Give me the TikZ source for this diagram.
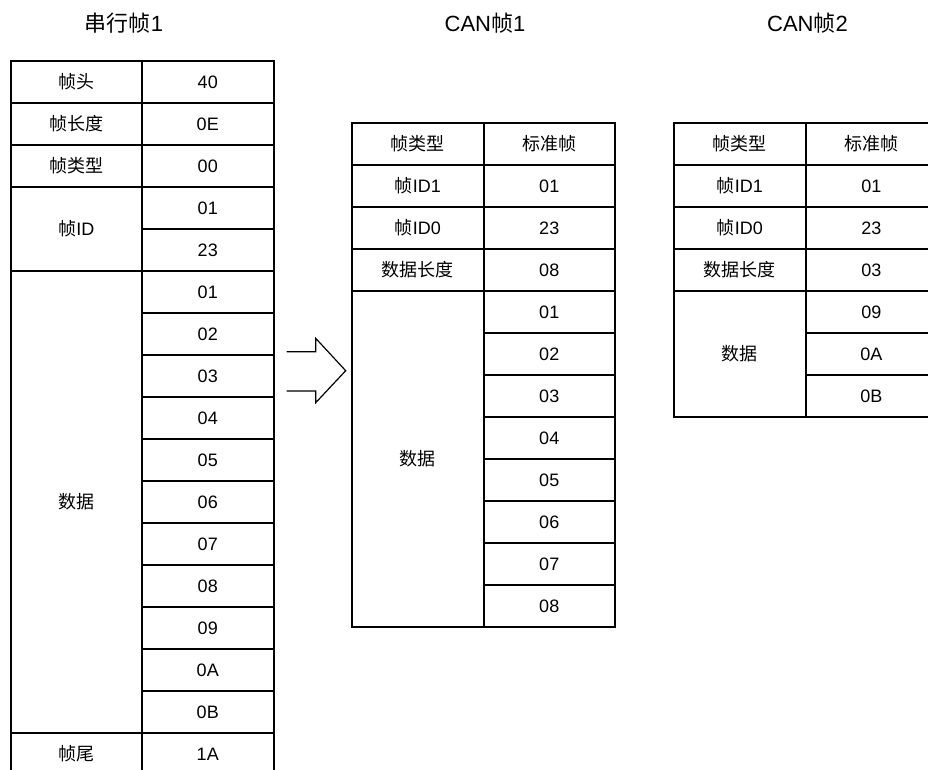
\documentclass[tikz,border=0pt]{standalone}
\usepackage{fontspec}
\setmainfont{Liberation Sans}
\newfontfamily\cjk{Noto Sans CJK SC}
\newcommand{\zh}[1]{{\cjk #1}}
\begin{document}
\begin{tikzpicture}[x=1pt,y=-1pt, every node/.style={font=\fontsize{18pt}{20pt}\selectfont},
  cell/.style={draw,line width=2pt,minimum width=131.5pt,minimum height=42pt,inner sep=0pt,outer sep=0pt,
    text height=13pt,text depth=0pt,anchor=north west},
  title/.style={font=\fontsize{22pt}{24pt}\selectfont}]
\useasboundingbox (0,0) rectangle (928,769);
\clip (0,0) rectangle (928,769);
% titles
\node[title] (t0) at (124,23) {\zh{串行帧}1};
\node[title] (t1) at (485,23) {CAN\zh{帧}1};
\node[title] (t2) at (807.5,23) {CAN\zh{帧}2};
% serial frame
\node[cell] (sk0) at (10.5,61) {\zh{帧头}};
\node[cell] (sk1) at (10.5,103) {\zh{帧长度}};
\node[cell] (sk2) at (10.5,145) {\zh{帧类型}};
\node[cell,minimum height=84pt] (sk3) at (10.5,187) {\zh{帧}ID};
\node[cell,minimum height=462pt] (sk4) at (10.5,271) {\zh{数据}};
\node[cell] (sk5) at (10.5,733) {\zh{帧尾}};
\foreach \v [count=\i from 0] in {40,0E,00,01,23,01,02,03,04,05,06,07,08,09,0A,0B,1A}
  \node[cell] (sv\i) at (142,{61+42*\i}) {\v};
% CAN frames, header rows
\foreach \x/\n/\len in {352/a/08,674/b/03} {
  \node[cell] (\n k0) at (\x,123) {\zh{帧类型}};
  \node[cell] (\n v0) at (\x+131.5,123) {\zh{标准帧}};
  \node[cell] (\n k1) at (\x,165) {\zh{帧}ID1};
  \node[cell] (\n v1) at (\x+131.5,165) {01};
  \node[cell] (\n k2) at (\x,207) {\zh{帧}ID0};
  \node[cell] (\n v2) at (\x+131.5,207) {23};
  \node[cell] (\n k3) at (\x,249) {\zh{数据长度}};
  \node[cell] (\n v3) at (\x+131.5,249) {\len};
}
% CAN frame 1 data
\node[cell,minimum height=336pt] (ad) at (352,291) {\zh{数据}};
\foreach \v [count=\i from 0] in {01,02,03,04,05,06,07,08}
  \node[cell] (ad\i) at (483.5,{291+42*\i}) {\v};
% CAN frame 2 data
\node[cell,minimum height=126pt] (bd) at (674,291) {\zh{数据}};
\foreach \v [count=\i from 0] in {09,0A,0B}
  \node[cell] (bd\i) at (805.5,{291+42*\i}) {\v};
% hollow arrow
\draw[line width=1.2pt,line join=miter] (286.7,351.7) -- (315.7,351.7) -- (315.7,338.3) -- (345.7,370.7)
  -- (315.7,402.7) -- (315.7,391) -- (286.7,391);
\end{tikzpicture}
\end{document}
